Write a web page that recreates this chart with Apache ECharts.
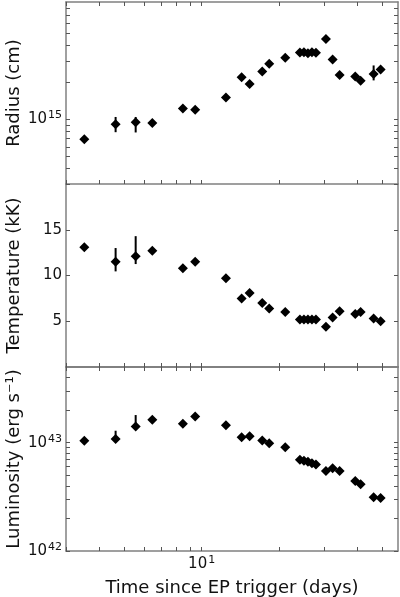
<!DOCTYPE html>
<html>
<head>
<meta charset="utf-8">
<script src="https://cdn.jsdelivr.net/npm/echarts@6/dist/echarts.min.js"></script>
<style>
  html, body { margin: 0; padding: 0; background: #fff; }
  #chart { width: 400px; height: 597px; }
</style>
</head>
<body>
<div id="chart"></div>
<script>
// time since trigger (days)
const days = [3.51, 4.64, 5.55, 6.44, 8.46, 9.44, 12.42, 14.29, 15.35, 17.18, 18.28, 21.09,
  24.04, 24.92, 25.83, 26.77, 27.74, 30.33, 32.2, 34.26, 39.4, 41.33, 46.42, 49.4]
// cm
const radius = [6.92e14, 9.16e14, 9.5e14, 9.38e14, 1.23e15, 1.2e15, 1.51e15, 2.21e15, 1.94e15, 2.46e15, 2.84e15, 3.18e15,
  3.5e15, 3.52e15, 3.45e15, 3.52e15, 3.48e15, 4.5e15, 3.08e15, 2.3e15, 2.24e15, 2.07e15, 2.34e15, 2.55e15]
// kK
const temperature = [13.1, 11.5, 12.1, 12.7, 10.8, 11.5, 9.7, 7.5, 8.1, 7.0, 6.4, 6.0,
  5.2, 5.2, 5.2, 5.2, 5.2, 4.4, 5.4, 6.1, 5.8, 6.0, 5.3, 5.0]
// erg/s
const luminosity = [1.04e43, 1.08e43, 1.41e43, 1.63e43, 1.5e43, 1.75e43, 1.45e43, 1.12e43, 1.15e43, 1.05e43, 9.9e42, 9.1e42,
  6.97e42, 6.82e42, 6.68e42, 6.46e42, 6.3e42, 5.48e42, 5.8e42, 5.48e42, 4.43e42, 4.13e42, 3.13e42, 3.09e42]

// error bars: [day, low, high]
const radiusErr = [[4.64, 7.9e14, 1.05e15], [5.55, 7.86e14, 1.05e15], [46.42, 2.08e15, 2.75e15]]
const temperatureErr = [[4.64, 10.45, 13.0], [5.55, 11.25, 14.3]]
const luminosityErr = [[4.64, 1.02e43, 1.29e43], [5.55, 1.33e43, 1.8e43]]

// ticks
const xTicks = [3, 4, 5, 6, 7, 8, 9, 10, 20, 30, 40, 50]
const xLabels = [10]
const radiusTicks = [3e14, 4e14, 5e14, 6e14, 7e14, 8e14, 9e14, 1e15, 2e15, 3e15, 4e15, 5e15, 6e15, 7e15, 8e15]
const radiusLabels = [1e15]
const tempTicks = [5, 10, 15]
const lumTicks = [1e42, 2e42, 3e42, 4e42, 5e42, 6e42, 7e42, 8e42, 9e42, 1e43, 2e43, 3e43, 4e43]
const lumLabels = [1e42, 1e43]

const lg = Math.log10
const font = 'DejaVu Sans'
const axisColor = '#808080'
const rich = {
  b: { fontSize: 15, lineHeight: 19, fontFamily: font, color: '#111' },
  s: { fontSize: 11, lineHeight: 12, verticalAlign: 'top', fontFamily: font, color: '#111', padding: [0, 0, 0, 1] }
}
let powLabel = v => `{b|10}{s|${Math.round(v)}}`

function tickOpt(values) {
  return {
    show: true,
    inside: true,
    length: 4,
    customValues: values,
    lineStyle: { color: '#555', width: 1 }
  }
}

function makeAxis(extra) {
  return Object.assign({
    type: 'value',
    axisLine: { show: true, lineStyle: { color: axisColor, width: 1.5 } },
    splitLine: { show: false },
    axisLabel: { show: false }
  }, extra)
}

let nameStyle = { fontFamily: font, fontSize: 18, color: '#111' }
let xAxis = []
let yAxis = []
let xRange = { min: lg(2.98), max: lg(57.7) }
for (let g = 0; g < 3; g++) {
  let bottom = makeAxis({ gridIndex: g, position: 'bottom', ...xRange, axisTick: tickOpt(xTicks.map(lg)) })
  if (g === 2) {
    bottom.axisLabel = {
      show: true, customValues: xLabels.map(lg), margin: 4,
      formatter: powLabel, rich
    }
    bottom.name = 'Time since EP trigger (days)'
    bottom.nameLocation = 'middle'
    bottom.nameGap = 28
    bottom.nameTextStyle = nameStyle
  }
  xAxis.push(bottom)
  xAxis.push(makeAxis({ gridIndex: g, position: 'top', ...xRange, axisTick: tickOpt(xTicks.map(lg)) }))
}

let yDefs = [
  { min: lg(3e14), max: lg(9e15), ticks: radiusTicks.map(lg), labels: radiusLabels.map(lg), fmt: powLabel, name: 'Radius (cm)' },
  { min: 0, max: 20, ticks: tempTicks, labels: tempTicks, fmt: v => `{b|${v}}`, name: 'Temperature (kK)' },
  { min: 42, max: lg(5e43), ticks: lumTicks.map(lg), labels: lumLabels.map(lg), fmt: powLabel, name: 'Luminosity (erg s⁻¹)' }
]
yDefs.forEach((d, g) => {
  yAxis.push(makeAxis({
    gridIndex: g, position: 'left', min: d.min, max: d.max, axisTick: tickOpt(d.ticks),
    axisLabel: { show: true, customValues: d.labels, margin: 4, formatter: d.fmt, rich },
    name: d.name, nameLocation: 'middle', nameGap: 43, nameMoveOverlap: false,
    nameTextStyle: nameStyle
  }))
  yAxis.push(makeAxis({ gridIndex: g, position: 'right', min: d.min, max: d.max, axisTick: tickOpt(d.ticks) }))
})

function errSeries(g, rows, tf) {
  return {
    type: 'custom',
    xAxisIndex: g * 2,
    yAxisIndex: g * 2,
    z: 1,
    data: rows.map(([t, lo, hi]) => [lg(t), tf(lo), tf(hi)]),
    encode: { x: 0, y: [1, 2] },
    renderItem(params, api) {
      let p1 = api.coord([api.value(0), api.value(1)])
      let p2 = api.coord([api.value(0), api.value(2)])
      return {
        type: 'line',
        shape: { x1: p1[0], y1: p1[1], x2: p2[0], y2: p2[1] },
        style: { stroke: '#000', lineWidth: 2 }
      }
    }
  }
}

function pointSeries(g, values, tf) {
  return {
    type: 'scatter',
    xAxisIndex: g * 2,
    yAxisIndex: g * 2,
    z: 2,
    symbol: 'diamond',
    symbolSize: 10,
    itemStyle: { color: '#000', opacity: 1 },
    data: days.map((t, i) => [lg(t), tf(values[i])])
  }
}

let same = v => v
let gridBase = { left: 66, right: 2, outerBoundsMode: 'none', containLabel: false }
let chart = echarts.init(document.getElementById('chart'))
chart.setOption({
  animation: false,
  grid: [
    { ...gridBase, top: 2, height: 182 },
    { ...gridBase, top: 184, height: 183 },
    { ...gridBase, top: 367, height: 184 }
  ],
  xAxis,
  yAxis,
  series: [
    errSeries(0, radiusErr, lg),
    pointSeries(0, radius, lg),
    errSeries(1, temperatureErr, same),
    pointSeries(1, temperature, same),
    errSeries(2, luminosityErr, lg),
    pointSeries(2, luminosity, lg)
  ]
})
</script>
</body>
</html>
